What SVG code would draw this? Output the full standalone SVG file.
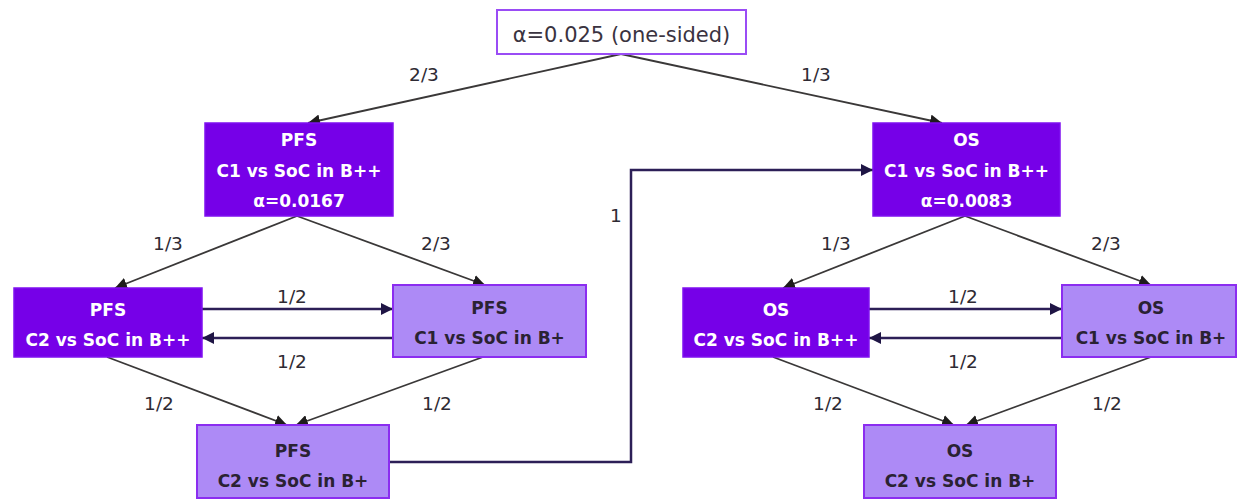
<svg xmlns="http://www.w3.org/2000/svg" width="1239" height="499" viewBox="0 0 1239 499">
  <style>
    .dark rect { fill: #7600e8; stroke: #7f10f0; stroke-width: 1.5; }
    .light rect { fill: #ad8af6; stroke: #8b2df0; stroke-width: 2; }
    .start rect { fill: #ffffff; stroke: #9a4cf5; stroke-width: 2; }
    text { font-family: "DejaVu Sans", "Liberation Sans", sans-serif; text-anchor: middle; }
    .dark text { fill: #ffffff; font-weight: bold; font-size: 17px; }
    .light text { fill: #2a2233; font-weight: bold; font-size: 17px; }
    .start text { fill: #3a3340; font-size: 21px; }
    .lbl { fill: #2e2a33; font-size: 18.5px; }
    .diag { stroke: #3a3838; stroke-width: 1.8; fill: none; marker-end: url(#headDiag); }
    .flow { stroke: #2c1f57; stroke-width: 2.5; fill: none; marker-end: url(#headFlow); }
  </style>
  <defs>
    <marker id="headDiag" markerUnits="userSpaceOnUse" markerWidth="14" markerHeight="12" refX="12" refY="6" orient="auto">
      <path d="M0,0 L12,6 L0,12 Z" fill="#1e1c1c"/>
    </marker>
    <marker id="headFlow" markerUnits="userSpaceOnUse" markerWidth="14" markerHeight="12" refX="12" refY="6" orient="auto">
      <path d="M0,0 L12,6 L0,12 Z" fill="#1f1545"/>
    </marker>
  </defs>

  <rect width="1239" height="499" fill="#ffffff"/>

  <!-- connectors -->
  <g id="connectors">
    <line class="diag" x1="621" y1="54" x2="308" y2="123"/>
    <line class="diag" x1="621" y1="54" x2="942" y2="123"/>

    <line class="diag" x1="297" y1="216" x2="115" y2="288"/>
    <line class="diag" x1="297" y1="216" x2="485" y2="285"/>
    <line class="flow" x1="202" y1="309" x2="393" y2="309"/>
    <line class="flow" x1="393" y1="338" x2="202" y2="338"/>
    <line class="diag" x1="107" y1="357" x2="287" y2="425"/>
    <line class="diag" x1="483" y1="357" x2="296" y2="425"/>

    <polyline class="flow" points="389,462 631,462 631,170 873,170"/>

    <line class="diag" x1="965" y1="216" x2="783" y2="288"/>
    <line class="diag" x1="965" y1="216" x2="1151" y2="285"/>
    <line class="flow" x1="869" y1="309" x2="1062" y2="309"/>
    <line class="flow" x1="1062" y1="338" x2="869" y2="338"/>
    <line class="diag" x1="773" y1="357" x2="954" y2="425"/>
    <line class="diag" x1="1151" y1="357" x2="966" y2="425"/>

    <text class="lbl" x="424" y="81">2/3</text>
    <text class="lbl" x="816" y="81">1/3</text>
    <text class="lbl" x="168" y="250">1/3</text>
    <text class="lbl" x="436" y="250">2/3</text>
    <text class="lbl" x="292" y="303">1/2</text>
    <text class="lbl" x="292" y="368">1/2</text>
    <text class="lbl" x="159" y="410">1/2</text>
    <text class="lbl" x="437" y="410">1/2</text>
    <text class="lbl" x="616" y="222">1</text>
    <text class="lbl" x="836" y="250">1/3</text>
    <text class="lbl" x="1106" y="250">2/3</text>
    <text class="lbl" x="963" y="303">1/2</text>
    <text class="lbl" x="963" y="368">1/2</text>
    <text class="lbl" x="828" y="410">1/2</text>
    <text class="lbl" x="1107" y="410">1/2</text>
  </g>

  <!-- nodes -->
  <g id="alpha" class="start">
    <rect x="497" y="10" width="249" height="44"/>
    <text x="621.5" y="42">α=0.025 (one-sided)</text>
  </g>

  <g id="pfs-c1-bpp" class="dark">
    <rect x="205" y="123" width="188" height="93"/>
    <text x="299" y="146">PFS</text>
    <text x="299" y="177">C1 vs SoC in B++</text>
    <text x="299" y="207">α=0.0167</text>
  </g>

  <g id="os-c1-bpp" class="dark">
    <rect x="873" y="123" width="187" height="93"/>
    <text x="966.5" y="146">OS</text>
    <text x="966.5" y="177">C1 vs SoC in B++</text>
    <text x="966.5" y="207">α=0.0083</text>
  </g>

  <g id="pfs-c2-bpp" class="dark">
    <rect x="14" y="288" width="188" height="69"/>
    <text x="108" y="316">PFS</text>
    <text x="108" y="346">C2 vs SoC in B++</text>
  </g>

  <g id="pfs-c1-bp" class="light">
    <rect x="393" y="285" width="193" height="72"/>
    <text x="489.5" y="314">PFS</text>
    <text x="489.5" y="344">C1 vs SoC in B+</text>
  </g>

  <g id="os-c2-bpp" class="dark">
    <rect x="683" y="288" width="186" height="69"/>
    <text x="776" y="316">OS</text>
    <text x="776" y="346">C2 vs SoC in B++</text>
  </g>

  <g id="os-c1-bp" class="light">
    <rect x="1062" y="285" width="174" height="72"/>
    <text x="1151" y="314">OS</text>
    <text x="1151" y="344">C1 vs SoC in B+</text>
  </g>

  <g id="pfs-c2-bp" class="light">
    <rect x="197" y="425" width="192" height="73"/>
    <text x="293" y="457">PFS</text>
    <text x="293" y="487">C2 vs SoC in B+</text>
  </g>

  <g id="os-c2-bp" class="light">
    <rect x="864" y="425" width="192" height="73"/>
    <text x="960" y="457">OS</text>
    <text x="960" y="487">C2 vs SoC in B+</text>
  </g>
</svg>
